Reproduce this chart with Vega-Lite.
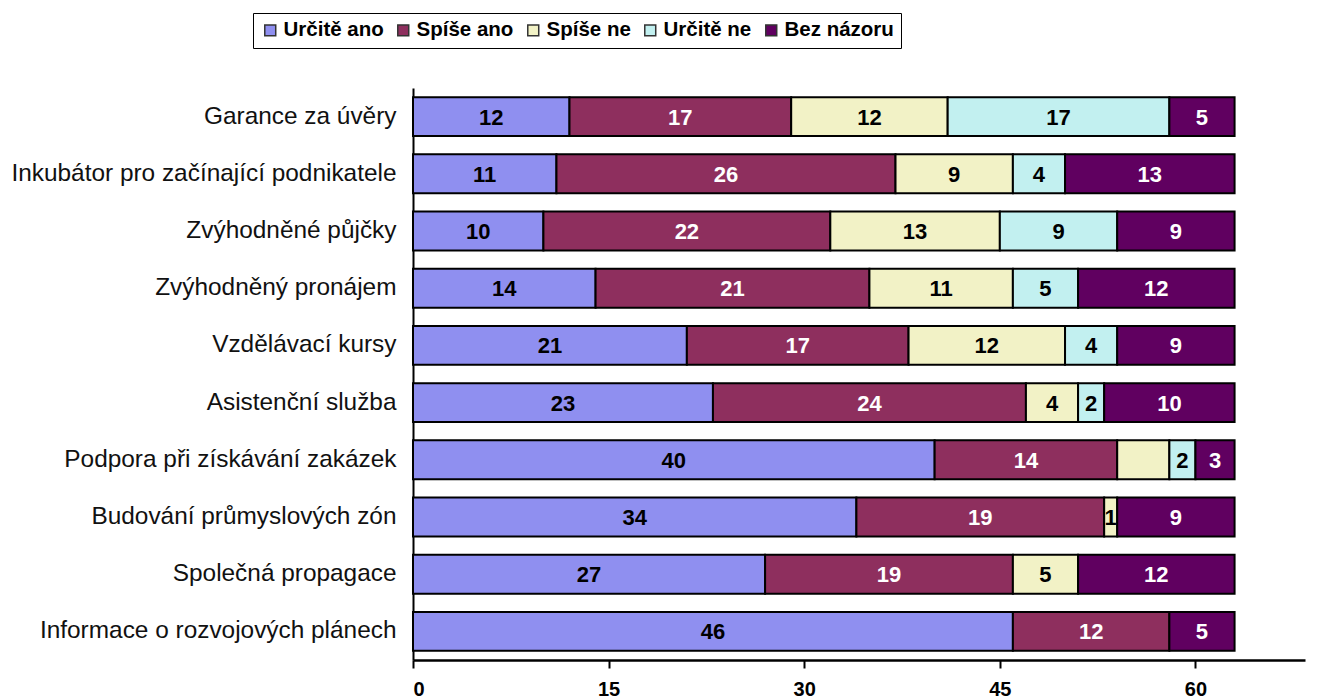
{
  "$schema": "https://vega.github.io/schema/vega-lite/v6.json",
  "width": 892,
  "height": 572,
  "autosize": {"type": "none"},
  "padding": {"left": 413, "top": 88, "right": 13, "bottom": 40},
  "background": "white",
  "config": {"view": {"stroke": null}, "font": "Liberation Sans"},
  "data": {"values": [
    {"item": "Garance za úvěry", "resp": "Určitě ano", "v": 12},
    {"item": "Garance za úvěry", "resp": "Spíše ano", "v": 17},
    {"item": "Garance za úvěry", "resp": "Spíše ne", "v": 12},
    {"item": "Garance za úvěry", "resp": "Určitě ne", "v": 17},
    {"item": "Garance za úvěry", "resp": "Bez názoru", "v": 5},
    {"item": "Inkubátor pro začínající podnikatele", "resp": "Určitě ano", "v": 11},
    {"item": "Inkubátor pro začínající podnikatele", "resp": "Spíše ano", "v": 26},
    {"item": "Inkubátor pro začínající podnikatele", "resp": "Spíše ne", "v": 9},
    {"item": "Inkubátor pro začínající podnikatele", "resp": "Určitě ne", "v": 4},
    {"item": "Inkubátor pro začínající podnikatele", "resp": "Bez názoru", "v": 13},
    {"item": "Zvýhodněné půjčky", "resp": "Určitě ano", "v": 10},
    {"item": "Zvýhodněné půjčky", "resp": "Spíše ano", "v": 22},
    {"item": "Zvýhodněné půjčky", "resp": "Spíše ne", "v": 13},
    {"item": "Zvýhodněné půjčky", "resp": "Určitě ne", "v": 9},
    {"item": "Zvýhodněné půjčky", "resp": "Bez názoru", "v": 9},
    {"item": "Zvýhodněný pronájem", "resp": "Určitě ano", "v": 14},
    {"item": "Zvýhodněný pronájem", "resp": "Spíše ano", "v": 21},
    {"item": "Zvýhodněný pronájem", "resp": "Spíše ne", "v": 11},
    {"item": "Zvýhodněný pronájem", "resp": "Určitě ne", "v": 5},
    {"item": "Zvýhodněný pronájem", "resp": "Bez názoru", "v": 12},
    {"item": "Vzdělávací kursy", "resp": "Určitě ano", "v": 21},
    {"item": "Vzdělávací kursy", "resp": "Spíše ano", "v": 17},
    {"item": "Vzdělávací kursy", "resp": "Spíše ne", "v": 12},
    {"item": "Vzdělávací kursy", "resp": "Určitě ne", "v": 4},
    {"item": "Vzdělávací kursy", "resp": "Bez názoru", "v": 9},
    {"item": "Asistenční služba", "resp": "Určitě ano", "v": 23},
    {"item": "Asistenční služba", "resp": "Spíše ano", "v": 24},
    {"item": "Asistenční služba", "resp": "Spíše ne", "v": 4},
    {"item": "Asistenční služba", "resp": "Určitě ne", "v": 2},
    {"item": "Asistenční služba", "resp": "Bez názoru", "v": 10},
    {"item": "Podpora při získávání zakázek", "resp": "Určitě ano", "v": 40},
    {"item": "Podpora při získávání zakázek", "resp": "Spíše ano", "v": 14},
    {"item": "Podpora při získávání zakázek", "resp": "Spíše ne", "v": 4},
    {"item": "Podpora při získávání zakázek", "resp": "Určitě ne", "v": 2},
    {"item": "Podpora při získávání zakázek", "resp": "Bez názoru", "v": 3},
    {"item": "Budování průmyslových zón", "resp": "Určitě ano", "v": 34},
    {"item": "Budování průmyslových zón", "resp": "Spíše ano", "v": 19},
    {"item": "Budování průmyslových zón", "resp": "Spíše ne", "v": 1},
    {"item": "Budování průmyslových zón", "resp": "Určitě ne", "v": 0},
    {"item": "Budování průmyslových zón", "resp": "Bez názoru", "v": 9},
    {"item": "Společná propagace", "resp": "Určitě ano", "v": 27},
    {"item": "Společná propagace", "resp": "Spíše ano", "v": 19},
    {"item": "Společná propagace", "resp": "Spíše ne", "v": 5},
    {"item": "Společná propagace", "resp": "Určitě ne", "v": 0},
    {"item": "Společná propagace", "resp": "Bez názoru", "v": 12},
    {"item": "Informace o rozvojových plánech", "resp": "Určitě ano", "v": 46},
    {"item": "Informace o rozvojových plánech", "resp": "Spíše ano", "v": 12},
    {"item": "Informace o rozvojových plánech", "resp": "Spíše ne", "v": 0},
    {"item": "Informace o rozvojových plánech", "resp": "Určitě ne", "v": 0},
    {"item": "Informace o rozvojových plánech", "resp": "Bez názoru", "v": 5}
  ]},
  "transform": [
    {"calculate": "indexof(['Určitě ano','Spíše ano','Spíše ne','Určitě ne','Bez názoru'], datum.resp)", "as": "ord"},
    {"stack": "v", "groupby": ["item"], "sort": [{"field": "ord", "order": "ascending"}], "as": ["v0", "v1"]},
    {"calculate": "(datum.v0 + datum.v1) / 2", "as": "mid"}
  ],
  "encoding": {
    "y": {
      "field": "item", "type": "nominal", "sort": null,
      "scale": {"paddingInner": 0.32, "paddingOuter": 0.16},
      "axis": {"title": null, "domainColor": "black", "domainWidth": 2, "ticks": false,
               "labelFontSize": 24.4, "labelColor": "#111", "labelPadding": 17, "labelLimit": 500}
    }
  },
  "layer": [
    {
      "mark": {"type": "bar", "stroke": "black", "strokeWidth": 2},
      "transform": [{"filter": "datum.v > 0"}],
      "encoding": {
        "x": {"field": "v0", "type": "quantitative",
              "scale": {"domain": [0, 68.4], "nice": false},
              "axis": {"title": null, "values": [0, 15, 30, 45, 60], "grid": false,
                       "domainColor": "black", "domainWidth": 2.5, "tickColor": "black", "tickWidth": 2, "tickSize": 8,
                       "labelFontSize": 20, "labelFontWeight": "bold", "labelColor": "black", "labelPadding": 11}},
        "x2": {"field": "v1"},
        "color": {
          "field": "resp", "type": "nominal",
          "sort": ["Určitě ano", "Spíše ano", "Spíše ne", "Určitě ne", "Bez názoru"],
          "scale": {"domain": ["Určitě ano", "Spíše ano", "Spíše ne", "Určitě ne", "Bez názoru"],
                    "range": ["#8f8ff0", "#8e2f5e", "#f2f2c6", "#c2f0f0", "#600060"]},
          "legend": {"orient": "none", "legendX": -160, "legendY": -75, "direction": "horizontal",
                     "title": null, "strokeColor": "black", "padding": 7, "fillColor": "white",
                     "symbolType": "square", "symbolSize": 120, "symbolStrokeColor": "#333", "symbolStrokeWidth": 1.5,
                     "symbolOpacity": 1,
                     "labelFontSize": 20.5, "labelFontWeight": "bold", "labelColor": "black",
                     "columnPadding": 9, "labelOffset": 3}
        }
      }
    },
    {
      "mark": {"type": "text", "fontSize": 22, "fontWeight": "bold", "baseline": "middle", "align": "center", "dy": 1},
      "transform": [{"filter": "datum.v > 0 && !(datum.item == 'Podpora při získávání zakázek' && datum.resp == 'Spíše ne')"}],
      "encoding": {
        "x": {"field": "mid", "type": "quantitative"},
        "text": {"field": "v", "type": "quantitative"},
        "color": {
          "condition": {"test": "datum.resp == 'Spíše ano' || datum.resp == 'Bez názoru'", "value": "white"},
          "value": "black"
        }
      }
    }
  ]
}
